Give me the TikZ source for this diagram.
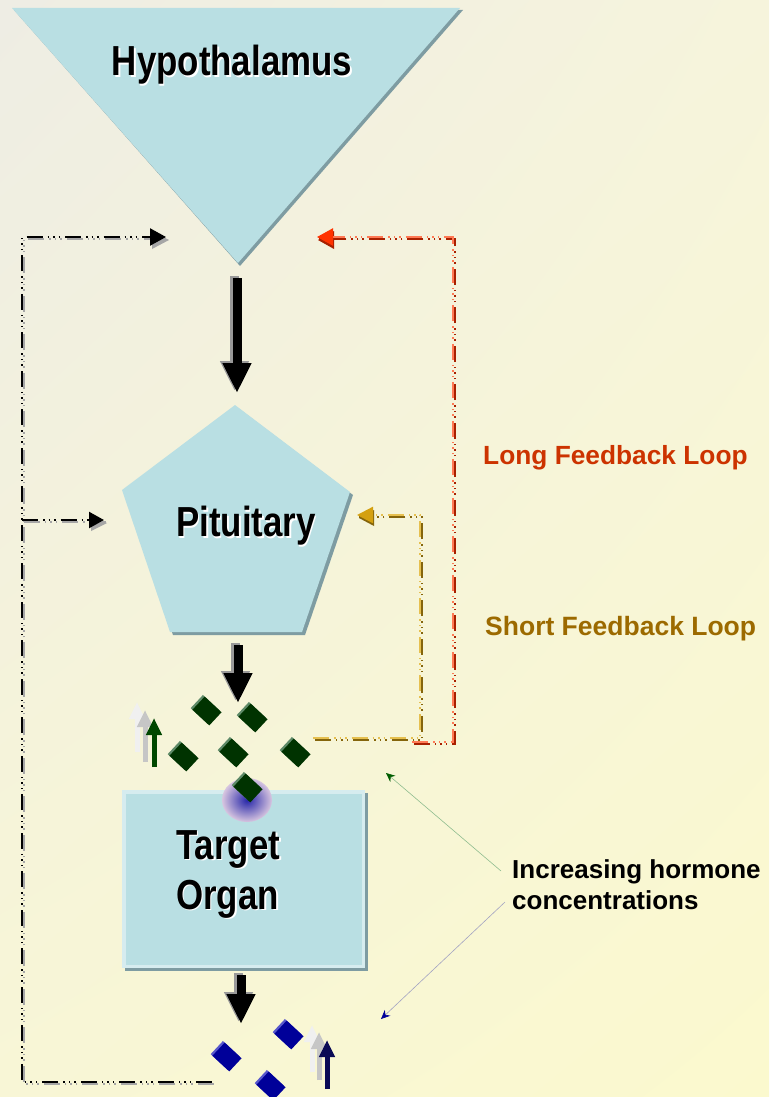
\documentclass[tikz,border=0pt]{standalone}
\usepackage{fontspec}
\newfontfamily\arial{Liberation Sans}
\usetikzlibrary{arrows.meta,shapes.geometric,shadings}
\definecolor{bgA}{HTML}{EEEDE4}
\definecolor{bgB}{HTML}{F6F4DC}
\definecolor{bgC}{HTML}{F8F6D6}
\definecolor{bgD}{HTML}{FBF9CE}
\definecolor{organ}{HTML}{B9DFE3}
\definecolor{organshadow}{HTML}{7E9CA2}
\definecolor{organlight}{HTML}{D6ECEF}
\definecolor{longred}{HTML}{CC3300}
\definecolor{shortgold}{HTML}{9C6A00}
\definecolor{redlight}{HTML}{FF7A55}
\definecolor{reddark}{HTML}{A82000}
\definecolor{redtip}{HTML}{FF3300}
\definecolor{goldlight}{HTML}{E6C050}
\definecolor{golddark}{HTML}{85650C}
\definecolor{goldtip}{HTML}{D4A010}
\definecolor{dgreen}{HTML}{003300}
\definecolor{lgreen}{HTML}{5E8A68}
\definecolor{dblue}{HTML}{000099}
\definecolor{lblue}{HTML}{5858CC}
\definecolor{navy}{HTML}{0A0A55}
\begin{document}
\begin{tikzpicture}[x=1pt,y=-1pt,
  bigtext/.style={font=\arial\bfseries\fontsize{42}{42}\selectfont, xscale=0.83, inner sep=0pt},
  labeltext/.style={font=\arial\bfseries\fontsize{26.3}{26}\selectfont, anchor=west, inner sep=0pt},
  bigarrow/.style={line width=9pt, -{Triangle[length=30pt,width=27pt]}},
  loopline/.style={line width=2.3pt, dash pattern=on 16pt off 5pt on 1.5pt off 4pt on 1.5pt off 4pt on 1.5pt off 5pt},
  diamondshape/.style={rectangle, minimum width=23pt, minimum height=18pt, inner sep=0pt, rotate=-43},
  uparrow/.style={line width=5pt, -{Triangle[length=17pt,width=15pt]}},
  thinarrow/.style={line width=0.6pt}
]
\useasboundingbox (0,0) rectangle (769,1097);
\shade[upper left=bgA, upper right=bgB, lower left=bgC, lower right=bgD] (0,0) rectangle (769,1097);

% ---------- Hypothalamus ----------
\fill[organshadow] (14,10) -- (463,10) -- (240,266) -- cycle;
\fill[organ] (12,8) -- (460,8) -- (238,263) -- cycle;
\node[bigtext, text=white] at (233.5,66.5) {Hypothalamus};
\node[bigtext] (hypo) at (232,65) {Hypothalamus};

% ---------- Pituitary ----------
\fill[organshadow] (238,408) -- (353,495) -- (305,635) -- (173,635) -- (125,493) -- cycle;
\fill[organ] (235,405) -- (350,492) -- (302,632) -- (170,632) -- (122,490) -- cycle;
\node[bigtext, text=white] at (247.5,527.5) {Pituitary};
\node[bigtext] (pit) at (246,526) {Pituitary};

% ---------- Target organ ----------
\fill[organshadow] (125,793) rectangle (368,971);
\fill[organlight] (122,790) rectangle (365,968);
\fill[organ] (126,794) rectangle (362,965);
\node[bigtext, text=white, align=left, anchor=north west] at (177.5,831.5) {Target\\[8pt]Organ};
\node[bigtext, align=left, anchor=north west] (organ) at (176,830) {Target\\[8pt]Organ};

% glow
\begin{scope}
\clip (247,800) ellipse [x radius=25pt, y radius=22pt];
\shade[inner color=blue!60!black!85, outer color=organ!50!violet!40] (247,800) ellipse [x radius=25pt, y radius=22pt];
\end{scope}

% ---------- Big black arrows ----------
\coordinate (a1s) at (237,278);
\coordinate (a1e) at (237,393);
\coordinate (a2s) at (238,645);
\coordinate (a2e) at (238,703);
\coordinate (a3s) at (241,975);
\coordinate (a3e) at (241,1024);
\foreach \s/\e in {a1s/a1e, a2s/a2e, a3s/a3e}{
  \draw[bigarrow, draw=gray!80, -{Triangle[length=30pt,width=27pt,fill=gray!80]}] ([shift={(-2.5,-2)}]\s) -- ([shift={(-2.5,-2)}]\e);
  \draw[bigarrow] (\s) -- (\e);
}

% ---------- Green hormone diamonds ----------
\foreach \n/\x/\y in {g1/207/711, g2/253/718, g3/184/757, g4/234/753, g5/296/753, g6/248/788}{
  \node[diamondshape, fill=lgreen] at (\x-1.8,\y-1.6) {};
  \node[diamondshape, fill=dgreen] (\n) at (\x,\y) {};
}
% ---------- Blue hormone diamonds ----------
\foreach \n/\x/\y in {b1/289/1035, b2/227/1057, b3/271/1086}{
  \node[diamondshape, fill=lblue] at (\x-1.8,\y-1.6) {};
  \node[diamondshape, fill=dblue] (\n) at (\x,\y) {};
}

% ---------- Up arrows ----------
\coordinate (ga1) at (137,752); \coordinate (ga1e) at (137,702);
\coordinate (ga2) at (145,762); \coordinate (ga2e) at (145,710);
\coordinate (ga3) at (154,767); \coordinate (ga3e) at (154,718);
\draw[uparrow, draw=gray!12, -{Triangle[length=17pt,width=15pt,fill=gray!12]}] (ga1) -- (ga1e);
\draw[uparrow, draw=gray!45, -{Triangle[length=17pt,width=15pt,fill=gray!45]}] (ga2) -- (ga2e);
\draw[uparrow, draw=dgreen!90!green, -{Triangle[length=17pt,width=15pt,fill=dgreen!90!green]}] (ga3) -- (ga3e);

\coordinate (na1) at (312,1072); \coordinate (na1e) at (312,1025);
\coordinate (na2) at (319,1080); \coordinate (na2e) at (319,1032);
\coordinate (na3) at (327,1089); \coordinate (na3e) at (327,1040);
\draw[uparrow, draw=gray!12, -{Triangle[length=17pt,width=15pt,fill=gray!12]}] (na1) -- (na1e);
\draw[uparrow, draw=gray!45, -{Triangle[length=17pt,width=15pt,fill=gray!45]}] (na2) -- (na2e);
\draw[uparrow, draw=navy, -{Triangle[length=17pt,width=15pt,fill=navy]}] (na3) -- (na3e);

% ---------- Left (black) loop ----------
\coordinate (lb) at (212,1082);
\coordinate (lc1) at (22,1082);
\coordinate (lc2) at (22,237);
\coordinate (lt) at (166,237);
\coordinate (lm) at (22,520);
\coordinate (lmt) at (104,520);
\draw[loopline, gray!70] ([shift={(1.8,2.2)}]lb) -- ([shift={(1.8,2.2)}]lc1) -- ([shift={(1.8,2.2)}]lc2) -- ([shift={(1.8,2.2)}]lt);
\draw[loopline, gray!70] ([shift={(1.8,2.2)}]lm) -- ([shift={(1.8,2.2)}]lmt);
\fill[gray!70] (169,240) -- (152,231) -- (152,249) -- cycle;
\fill[gray!70] (107,523) -- (91,515) -- (91,531) -- cycle;
\draw[loopline, black, -{Triangle[length=16pt,width=17pt]}] (lb) -- (lc1) -- (lc2) -- (lt);
\draw[loopline, black, -{Triangle[length=15pt,width=16pt]}] (lm) -- (lmt);

% ---------- Long (red) loop ----------
\coordinate (rb) at (412,742);
\coordinate (rc1) at (453,742);
\coordinate (rc2) at (453,237);
\coordinate (rt) at (317,237);
\draw[loopline, reddark] ([shift={(1.8,2.2)}]rb) -- ([shift={(1.8,2.2)}]rc1) -- ([shift={(1.8,2.2)}]rc2) -- ([shift={(1.8,2.2)}]rt);
\fill[reddark] (318,240) -- (334,231) -- (334,249) -- cycle;
\draw[loopline, redlight, -{Triangle[length=16pt,width=17pt,fill=redtip,color=redtip]}] (rb) -- (rc1) -- (rc2) -- (rt);

% ---------- Short (gold) loop ----------
\coordinate (sb) at (313,738);
\coordinate (sc1) at (420,738);
\coordinate (sc2) at (420,515);
\coordinate (st) at (357,515);
\draw[loopline, golddark] ([shift={(1.8,2.2)}]sb) -- ([shift={(1.8,2.2)}]sc1) -- ([shift={(1.8,2.2)}]sc2) -- ([shift={(1.8,2.2)}]st);
\fill[golddark] (359,518) -- (374,510) -- (374,526) -- cycle;
\draw[loopline, goldlight, -{Triangle[length=16pt,width=16pt,fill=goldtip,color=goldtip]}] (sb) -- (sc1) -- (sc2) -- (st);

% ---------- Labels ----------
\node[labeltext, text=longred] (longlbl) at (483,458) {Long Feedback Loop};
\node[labeltext, text=shortgold, font=\arial\bfseries\fontsize{26.5}{26}\selectfont] (shortlbl) at (485,629) {Short Feedback Loop};
\node[font=\arial\bfseries\fontsize{26}{31}\selectfont, anchor=north west, align=left, inner sep=0pt] (incr) at (512,859) {Increasing hormone\\concentrations};

% ---------- Thin pointer arrows ----------
\coordinate (p1s) at (501,871);
\coordinate (p1e) at (386,773);
\coordinate (p2s) at (505,902);
\coordinate (p2e) at (381,1019);
\draw[thinarrow, draw=green!25!gray!70, -{Stealth[length=9pt,width=8pt,color=dgreen!80!green]}] (p1s) -- (p1e);
\draw[thinarrow, draw=blue!20!gray!60, -{Stealth[length=9pt,width=8pt,color=dblue]}] (p2s) -- (p2e);
\end{tikzpicture}
\end{document}
